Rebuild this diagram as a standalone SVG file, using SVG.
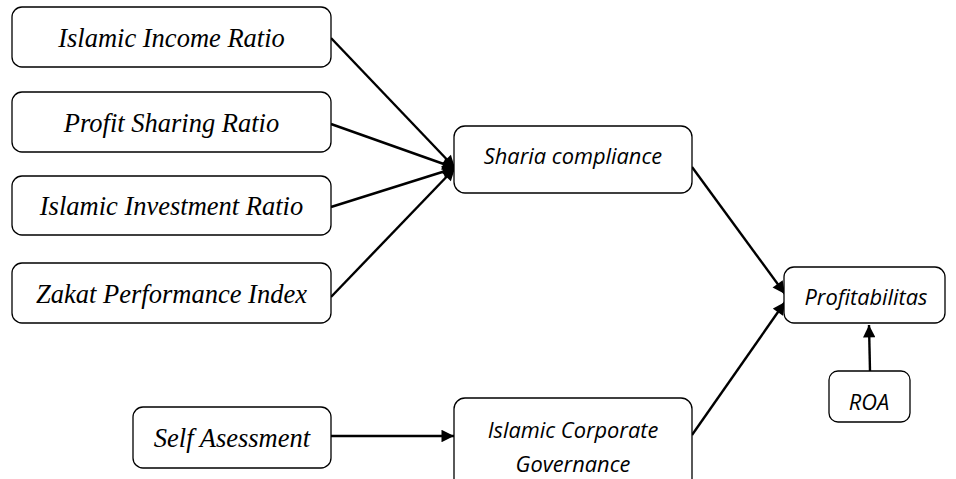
<svg xmlns="http://www.w3.org/2000/svg" width="956" height="479" viewBox="0 0 956 479">
<style>
.box{fill:#fff;stroke:#000;stroke-width:1.3}
.serif{font-family:"Liberation Serif","Times New Roman",serif;font-style:italic;font-size:26.5px;fill:#000;text-anchor:middle}
.sans{font-family:"Open Sans","Liberation Sans",Arial,sans-serif;font-style:italic;font-size:21.8px;fill:#000;text-anchor:middle}
.conn{stroke:#000;stroke-width:2.4;fill:none;marker-end:url(#ah)}
</style>
<defs>
<marker id="ah" viewBox="0 0 10 10" refX="10" refY="5" markerWidth="5.8" markerHeight="5.2" orient="auto" markerUnits="strokeWidth">
<path d="M0,0 L10,5 L0,10 z" fill="#000"/>
</marker>
</defs>
<rect width="956" height="479" fill="#fff"/>
<g id="connectors">
<line class="conn" x1="331" y1="38" x2="455" y2="168"/>
<line class="conn" x1="331" y1="124" x2="455" y2="168"/>
<line class="conn" x1="331" y1="207" x2="455" y2="168"/>
<line class="conn" x1="331" y1="297" x2="455" y2="168"/>
<line class="conn" x1="692" y1="167" x2="785" y2="294"/>
<line class="conn" x1="692" y1="435" x2="785" y2="302"/>
<line class="conn" x1="331" y1="436" x2="454" y2="436"/>
<line class="conn" x1="870" y1="371" x2="869" y2="325"/>
</g>
<g id="n-iir"><rect class="box" x="12" y="7" width="319" height="60" rx="10"/><text class="serif" x="171.5" y="47">Islamic Income Ratio</text></g>
<g id="n-psr"><rect class="box" x="12" y="92" width="319" height="60" rx="10"/><text class="serif" x="171.5" y="132">Profit Sharing Ratio</text></g>
<g id="n-iinv"><rect class="box" x="12" y="176" width="319" height="59" rx="10"/><text class="serif" x="171.5" y="215">Islamic Investment Ratio</text></g>
<g id="n-zpi"><rect class="box" x="12" y="263" width="319" height="60" rx="10"/><text class="serif" x="171.5" y="303">Zakat Performance Index</text></g>
<g id="n-sharia"><rect class="box" x="454" y="126" width="238" height="67" rx="11"/><text class="sans" x="573" y="164">Sharia compliance</text></g>
<g id="n-profit"><rect class="box" x="784" y="267" width="161" height="56" rx="10"/><text class="sans" x="866" y="305">Profitabilitas</text></g>
<g id="n-roa"><rect class="box" x="829" y="371" width="81" height="51" rx="9"/><text class="sans" x="869" y="410">ROA</text></g>
<g id="n-self"><rect class="box" x="133" y="407" width="198" height="61" rx="10"/><text class="serif" x="232" y="447">Self Asessment</text></g>
<g id="n-icg"><rect class="box" x="454" y="398" width="238" height="95" rx="11"/><text class="sans" x="573" y="438">Islamic Corporate</text><text class="sans" x="573" y="472">Governance</text></g>
</svg>
